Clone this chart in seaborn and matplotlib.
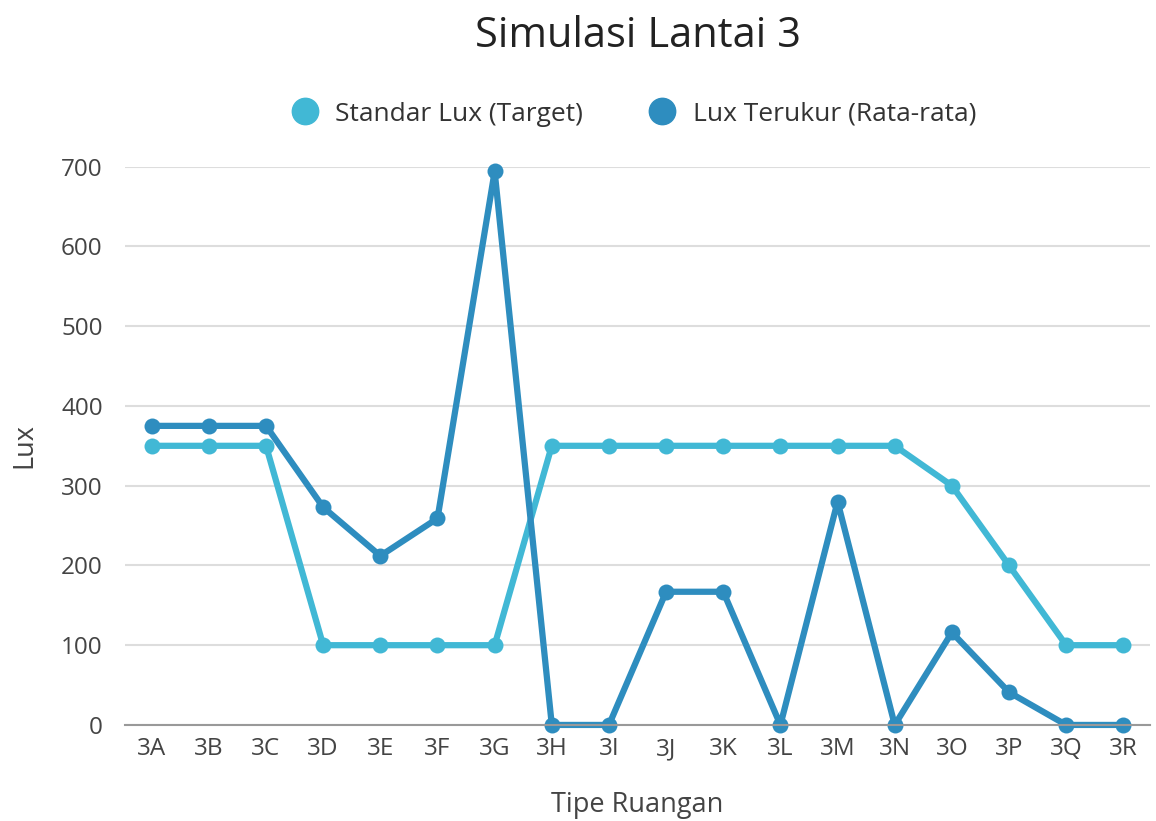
import numpy as np
import pandas as pd
import matplotlib
matplotlib.use("Agg")
import matplotlib.pyplot as plt
from matplotlib.lines import Line2D
import seaborn as sns

rooms = ["3A", "3B", "3C", "3D", "3E", "3F", "3G", "3H", "3I",
         "3J", "3K", "3L", "3M", "3N", "3O", "3P", "3Q", "3R"]
standar_lux = [350, 350, 350, 100, 100, 100, 100, 350, 350,
               350, 350, 350, 350, 350, 300, 200, 100, 100]
lux_terukur = [375, 375, 375, 273, 212, 259, 694, 0, 0,
               167, 167, 0, 280, 0, 116, 41, 0, 0]
series_names = ["Standar Lux (Target)", "Lux Terukur (Rata-rata)"]
colors = ["#41b8d5", "#2e8dbf"]

df = pd.DataFrame({
    "Tipe Ruangan": rooms * 2,
    "idx": list(range(len(rooms))) * 2,
    "Lux": standar_lux + lux_terukur,
    "series": [series_names[0]] * len(rooms) + [series_names[1]] * len(rooms),
})

sns.set_theme(style="white")
plt.rcParams["font.family"] = ["Open Sans", "DejaVu Sans"]

fig = plt.figure(figsize=(11.56, 8.21), dpi=100)
ax = fig.add_axes([0.108, 0.117, 0.887, 0.680])

sns.lineplot(data=df, x="idx", y="Lux", hue="series", palette=colors,
             marker="o", markersize=11.5, markeredgewidth=0, linewidth=4.5,
             legend=False, ax=ax, clip_on=False)

ax.set_xlim(-0.47, len(rooms) - 1 + 0.47)
ax.set_ylim(0, 700)
ax.set_xticks(range(len(rooms)))
ax.set_xticklabels(rooms)
ax.set_yticks(range(0, 701, 100))
ax.yaxis.grid(True, color="#dddddd", linewidth=1.5)
ax.set_axisbelow(True)
for s in ["top", "right", "left"]:
    ax.spines[s].set_visible(False)
ax.spines["bottom"].set_color("#999999")
ax.spines["bottom"].set_linewidth(1.5)
ax.tick_params(axis="both", length=0, labelsize=17.5, labelcolor="#444444")
ax.tick_params(axis="y", pad=16)
ax.tick_params(axis="x", pad=9)

ax.set_xlabel("Tipe Ruangan", fontsize=19.5, color="#444444", labelpad=21)
ax.set_ylabel("Lux", fontsize=19.5, color="#444444", labelpad=16)
ax.set_title("Simulasi Lantai 3", fontsize=30, color="#222222", pad=86)

handles = [Line2D([], [], marker="o", linestyle="", markersize=19,
                  color=c) for c in colors]
ax.legend(handles, series_names, loc="center", bbox_to_anchor=(0.49, 1.094),
          ncol=2, frameon=False, fontsize=19, handletextpad=0.15,
          columnspacing=2.0, labelcolor="#333333")

fig.savefig("out.png", dpi=100)
